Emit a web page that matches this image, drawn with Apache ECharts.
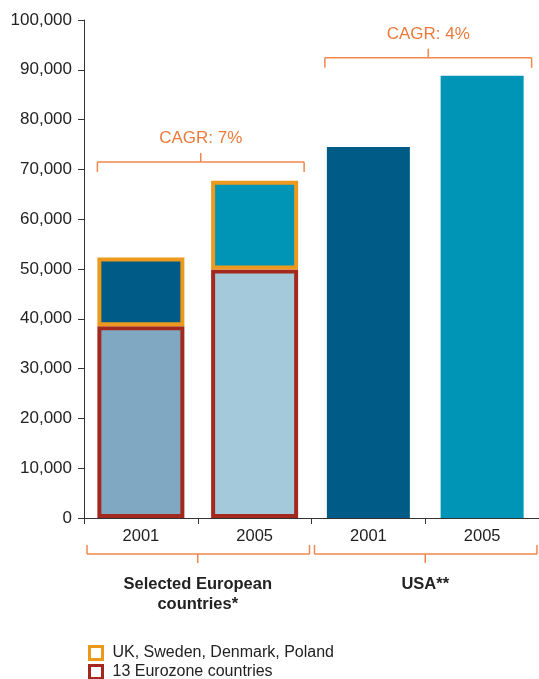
<!DOCTYPE html>
<html><head><meta charset="utf-8">
<script src="https://cdn.jsdelivr.net/npm/echarts@6/dist/echarts.min.js"></script>
<style>html,body{margin:0;padding:0;background:#fff}#c{width:539px;height:679px}</style>
</head><body><div id="c"></div>
<script>
const categories = ['2001', '2005', '2001', '2005'];
const groups = ['Selected European\ncountries*', 'USA**'];
const eurozone = [38500, 49900, '-', '-'];
const ukSwedenDkPl = [13800, 17800, '-', '-'];
const usa = ['-', '-', 74500, 88800];
const cagrLabels = ['CAGR: 7%', 'CAGR: 4%'];
const legendNames = ['UK, Sweden, Denmark, Poland', '13 Eurozone countries'];

const FONT = '"Liberation Sans", Arial, Helvetica, sans-serif';
const ORANGE = '#EC9A1E', RED = '#A3291F', BRACKET = '#F0884E', CAGR = '#EC7A3A';
const euroFill = ['#80A8C2', '#A3C9DB'];
const ukFill = ['#005B87', '#0094B6'];
const usaFill = ['#005B87', '#0094B6'];
const legendBorders = [ORANGE, RED];

const chart = echarts.init(document.getElementById('c'), null, {renderer: 'canvas'});
const option = {
  animation: false,
  grid: {left: 84, top: 20, width: 460, bottom: 161},
  legend: legendNames.map((n, i) => ({
    orient: 'vertical', left: 88, top: 644 + i * 19, padding: 0, itemWidth: 13, itemHeight: 13,
    icon: 'rect', selectedMode: false,
    textStyle: {fontFamily: FONT, fontSize: 16, color: '#222', lineHeight: 18, padding: [0, 0, 0, 5]},
    data: [{name: n, itemStyle: {color: '#fff', borderColor: legendBorders[i], borderWidth: 3}}]
  })),
  xAxis: [{
    type: 'category', data: categories, position: 'bottom',
    axisLine: {lineStyle: {color: '#333', width: 1}},
    axisTick: {show: true, length: 6, lineStyle: {color: '#333'}},
    axisLabel: {fontFamily: FONT, fontSize: 16.5, color: '#222', margin: 10}
  }, {
    type: 'category', data: groups, position: 'bottom',
    axisLine: {show: false}, axisTick: {show: false},
    axisLabel: {fontFamily: FONT, fontSize: 16.5, fontWeight: 'bold', color: '#222', margin: 56, lineHeight: 20}
  }, {
    type: 'category', data: categories, show: false
  }],
  yAxis: {
    type: 'value', min: 0, max: 100000, interval: 10000,
    axisLine: {show: true, lineStyle: {color: '#333', width: 1}},
    axisTick: {show: true, length: 6, lineStyle: {color: '#333'}},
    splitLine: {show: false},
    axisLabel: {fontFamily: FONT, fontSize: 17, color: '#222', margin: 12,
      formatter: v => v.toLocaleString('en-US')}
  },
  series: [
    {
      name: '13 Eurozone countries', type: 'bar', stack: 'eu', barWidth: 87,
      itemStyle: {color: '#fff', borderColor: RED, borderWidth: 4},
      data: eurozone.map((v, i) => ({value: v, itemStyle: {color: euroFill[i] || '#fff', borderColor: RED, borderWidth: 4}}))
    },
    {
      name: 'UK, Sweden, Denmark, Poland', type: 'bar', stack: 'eu', barWidth: 87,
      itemStyle: {color: '#fff', borderColor: ORANGE, borderWidth: 4},
      data: ukSwedenDkPl.map((v, i) => ({value: v, itemStyle: {color: ukFill[i] || '#fff', borderColor: ORANGE, borderWidth: 4}}))
    },
    {
      name: 'USA', type: 'bar', xAxisIndex: 2, barWidth: 83,
      data: usa.map((v, i) => ({value: v, itemStyle: {color: usaFill[i - 2] || '#fff'}}))
    }
  ]
};
chart.setOption(option);

// annotations (brackets) computed through the axes
const px = (c, v) => chart.convertToPixel({xAxisIndex: 0, yAxisIndex: 0}, [c, v]);
const bandW = px(1, 0)[0] - px(0, 0)[0];
const axisY = px(0, 0)[1];
const els = [];
const line = (x1, y1, x2, y2) => els.push({type: 'line', shape: {x1, y1, x2, y2}, style: {stroke: BRACKET, lineWidth: 1.5}, silent: true});
const cagrLevel = [71500, 92400];
[[0, 1], [2, 3]].forEach((pair, g) => {
  const y = px(0, cagrLevel[g])[1];
  const xl = px(pair[0], 0)[0] - 43.5, xr = px(pair[1], 0)[0] + 49.5;
  const xm = (xl + xr) / 2;
  line(xl, y, xr, y);
  line(xl, y, xl, y + 10);
  line(xr, y, xr, y + 10);
  line(xm, y, xm, y - 9);
  els.push({type: 'text', x: xm, y: y - 23.5, silent: true,
    style: {text: cagrLabels[g], fill: CAGR, font: '17px ' + FONT, align: 'center', verticalAlign: 'middle'}});
  // bottom group bracket
  const bl = px(pair[0], 0)[0] - bandW / 2 + 3, br = px(pair[1], 0)[0] + bandW / 2 - 2;
  const by = axisY + 36, bm = (px(pair[0], 0)[0] + px(pair[1], 0)[0]) / 2;
  line(bl, by, br, by);
  line(bl, by, bl, by - 9);
  line(br, by, br, by - 9);
  line(bm, by, bm, by + 9);
});
chart.setOption({graphic: {elements: els}});
</script></body></html>
